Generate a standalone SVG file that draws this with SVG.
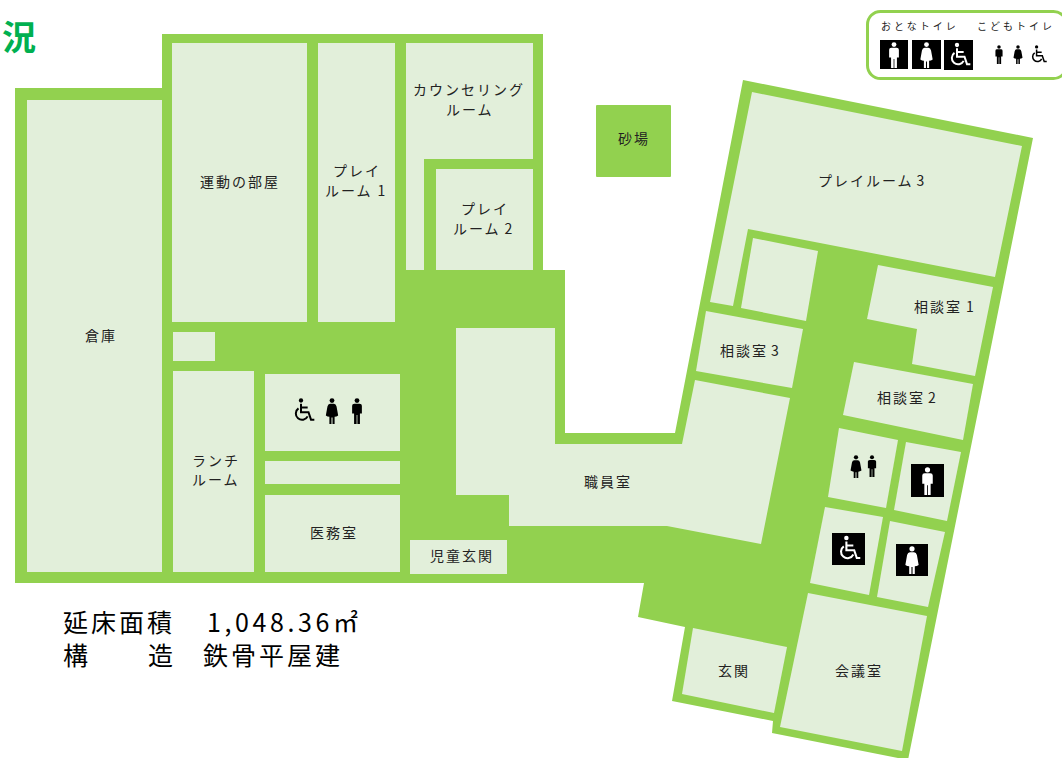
<svg xmlns="http://www.w3.org/2000/svg" xmlns:xlink="http://www.w3.org/1999/xlink" width="1062" height="758" viewBox="0 0 1062 758">
<style>
.w{fill:#92D14F}
.r{fill:#E2EFDA}
text{font-family:"Noto Sans CJK JP","Noto Sans",sans-serif;fill:#222}
.l{font-size:14px;letter-spacing:2px}
.b{font-size:25px;letter-spacing:3px;fill:#000}
.k{font-size:10px;letter-spacing:2.8px}
.blk{fill:#000}
.wht{color:#fff}
.dk{color:#000}
</style>
<defs>
<symbol id="man" viewBox="0 0 20 40"><circle cx="10" cy="4" r="3.7" fill="currentColor"/><path fill="currentColor" d="M6 9H14Q17.5 9 17.5 12V24H14.5V40H10.6V26H9.4V40H5.5V24H2.5V12Q2.5 9 6 9Z"/></symbol>
<symbol id="woman" viewBox="0 0 20 40"><circle cx="10" cy="4" r="3.7" fill="currentColor"/><path fill="currentColor" d="M7 9H13Q16 9 17 13L19.5 27Q17 29 14 29V40H10.8V30H9.2V40H6V29Q3 29 .5 27L3 13Q4 9 7 9Z"/></symbol>
<symbol id="chair" viewBox="0 0 30 30"><circle cx="12" cy="3" r="2.6" fill="currentColor"/><path fill="none" stroke="currentColor" stroke-width="2.4" d="M12 7V17H21L24 26H28M12 11.5H20M9 12.5A7.5 7.5 0 1 0 20 22"/></symbol>
</defs>

<g id="title"><text x="2" y="50" style="font-size:34px;font-weight:700;fill:#00B050">況</text></g>

<g id="building"><path class="w" d="M15 88H162V34H543V270H565V433H675L743 80L1033 138L908 760L772 733L773 721L672 701L685 627L638 617L644 583H15Z"/></g>
<g id="sandbox"><rect class="w" x="596" y="105" width="75" height="72" rx="1"/><text class="l" x="618" y="144">砂場</text></g>

<g id="room-storage"><rect class="r" x="27" y="100" width="135" height="472"/><text class="l" x="85" y="341">倉庫</text></g>
<g id="room-exercise"><rect class="r" x="172" y="43" width="135" height="279"/><text class="l" x="200" y="187">運動の部屋</text></g>
<g id="room-play1"><rect class="r" x="318" y="43" width="77" height="279"/><text class="l" x="333" y="176">プレイ</text><text class="l" x="325" y="196">ルーム<tspan dx="5">1</tspan></text></g>
<g id="room-small"><rect class="r" x="173" y="332" width="42" height="29"/></g>
<g id="room-lunch"><rect class="r" x="173" y="371" width="81" height="201"/><text class="l" x="192" y="466">ランチ</text><text class="l" x="192" y="485">ルーム</text></g>
<g id="room-wc"><rect class="r" x="265" y="374" width="135" height="77"/>
<use href="#chair" x="291" y="398" width="25" height="25" class="dk"/>
<use href="#woman" x="325" y="398" width="14" height="26" class="dk"/>
<use href="#man" x="350" y="398" width="14" height="26" class="dk"/></g>
<g id="room-strip"><rect class="r" x="265" y="461" width="135" height="23"/></g>
<g id="room-medical"><rect class="r" x="265" y="495" width="135" height="77"/><text class="l" x="310" y="538">医務室</text></g>
<g id="room-child-entrance"><rect class="r" x="410" y="540" width="97" height="34"/><text class="l" x="430" y="561">児童玄関</text></g>
<g id="room-counseling"><path class="r" d="M406 43H533V159H424V270H406Z"/><text class="l" x="413" y="95">カウンセリング</text><text class="l" x="446" y="115">ルーム</text></g>
<g id="room-play2"><rect class="r" x="436" y="169" width="97" height="101"/><text class="l" x="461" y="214">プレイ</text><text class="l" x="453" y="234">ルーム<tspan dx="4">2</tspan></text></g>
<g id="room-staff"><path class="r" d="M456 328H555V444H682L695 380L790 398L761 544L667 526H509V495H456Z"/><text class="l" x="584" y="487">職員室</text></g>
<g id="room-play3"><path class="r" d="M752 92L1022 146L995 277L748 229L733 306L710 302Z"/><text class="l" x="818" y="186">プレイルーム<tspan dx="3">3</tspan></text></g>
<g id="room-unnamed"><path class="r" d="M753 238L818 251L806 321L741 308Z"/></g>
<g id="room-consult1"><path class="r" d="M878 265L993 287L975 376L912 364L917 329L867 319Z"/><text class="l" x="914" y="312">相談室<tspan dx="4">1</tspan></text></g>
<g id="room-consult3"><path class="r" d="M706 311L803 329L792 388L696 371Z"/><text class="l" x="720" y="356">相談室<tspan dx="3">3</tspan></text></g>
<g id="room-consult2"><path class="r" d="M854 362L973 384L963 440L843 415Z"/><text class="l" x="877" y="403">相談室<tspan dx="3">2</tspan></text></g>
<g id="wc-child"><path class="r" d="M839 428L898 440L886 508L828 497Z"/>
<use href="#woman" x="850" y="455" width="12" height="23" class="dk"/>
<use href="#man" x="866" y="455" width="12" height="22" class="dk"/></g>
<g id="wc-men"><path class="r" d="M906 442L961 452L947 521L894 510Z"/><rect class="blk" x="911" y="464" width="33" height="33"/><use href="#man" x="919" y="467" width="17" height="28" class="wht"/></g>
<g id="wc-access"><path class="r" d="M825 507L883 517L869 595L810 583Z"/><rect class="blk" x="832" y="533" width="33" height="32"/><use href="#chair" x="836" y="535" width="26" height="27" class="wht"/></g>
<g id="wc-women"><path class="r" d="M890 521L945 532L928 607L877 597Z"/><rect class="blk" x="896" y="544" width="32" height="32"/><use href="#woman" x="904" y="546" width="16" height="28" class="wht"/></g>
<g id="room-meeting"><path class="r" d="M808 593L927 616L902 751L780 727Z"/><text class="l" x="835" y="676">会議室</text></g>
<g id="room-entrance"><path class="r" d="M693 628L787 647L774 713L682 694Z"/><text class="l" x="718" y="676">玄関</text></g>

<g id="summary">
<text class="b" x="63" y="632">延床面積</text>
<text class="b" x="207" y="632" style="letter-spacing:3.6px">1,048.36㎡</text>
<text class="b" x="63" y="665">構</text>
<text class="b" x="148" y="665">造</text>
<text class="b" x="203" y="665">鉄骨平屋建</text>
</g>

<g id="legend">
<rect x="867.5" y="11.5" width="199" height="67" rx="13" fill="#fff" stroke="#92D14F" stroke-width="3"/>
<text class="k" x="881" y="30" style="letter-spacing:3px">おとなトイレ</text>
<text class="k" x="977" y="30" style="letter-spacing:3px">こどもトイレ</text>
<rect class="blk" x="880" y="40" width="28" height="29"/><use href="#man" x="886" y="42" width="16" height="26" class="wht"/>
<rect class="blk" x="912" y="40" width="29" height="29"/><use href="#woman" x="919" y="42" width="15" height="26" class="wht"/>
<rect class="blk" x="944" y="40" width="29" height="30"/><use href="#chair" x="947" y="42" width="25" height="26" class="wht"/>
<use href="#man" x="994" y="45" width="10" height="19" class="dk"/>
<use href="#woman" x="1013" y="45" width="10" height="19" class="dk"/>
<use href="#chair" x="1029" y="45" width="19" height="19" class="dk"/>
</g>
</svg>
